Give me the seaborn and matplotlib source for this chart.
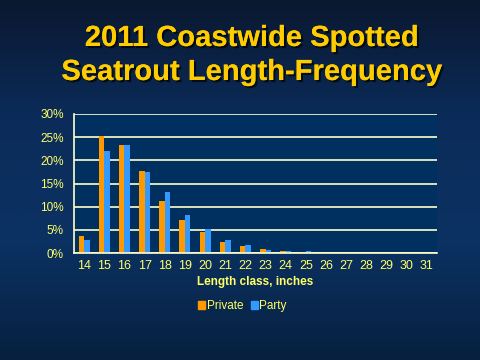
import matplotlib
matplotlib.use("Agg")
from matplotlib import pyplot as plt
import matplotlib.patheffects as pe
from matplotlib.colors import LinearSegmentedColormap
from matplotlib.patches import Patch
import numpy as np
import pandas as pd
import seaborn as sns

lengths = [str(i) for i in range(14, 32)]
private = [3.6, 25.3, 23.4, 17.8, 11.3, 7.2, 4.6, 2.4, 1.6, 0.9, 0.5, 0.3, 0, 0, 0, 0, 0, 0]
party = [2.9, 22.1, 23.4, 17.5, 13.2, 8.3, 5.2, 2.7, 1.8, 0.7, 0.5, 0.5, 0, 0, 0, 0, 0, 0]

df = pd.DataFrame({
    'Length': lengths * 2,
    'Percent': private + party,
    'Group': ['Private'] * len(lengths) + ['Party'] * len(lengths),
})

sns.set_style('white')
plt.rcParams['font.family'] = ['Liberation Sans', 'DejaVu Sans']

yellow = '#FFFF66'
cream = '#FFFFCC'
colors = {'Private': '#FF9900', 'Party': '#3399FF'}

fig = plt.figure(figsize=(4.8, 3.6), dpi=100)

# background gradient
bg = fig.add_axes([0, 0, 1, 1], zorder=-10)
cmap = LinearSegmentedColormap.from_list('bg', ['#0a1830', '#0b2c5a', '#0b3263', '#07203f'])
grad = np.linspace(0, 1, 256).reshape(-1, 1)
bg.imshow(grad, aspect='auto', cmap=cmap, extent=[0, 1, 0, 1])
bg.axis('off')

ax = fig.add_axes([74 / 480, 1 - 253 / 360, 363 / 480, 139 / 360])
ax.set_facecolor('#00305f')
sns.barplot(data=df, x='Length', y='Percent', hue='Group', palette=colors,
            width=0.55, ax=ax, legend=False, saturation=1, linewidth=0, edgecolor='none')

ax.set_ylim(0, 30)
ax.set_xlim(-0.5, 17.5)
ax.set_yticks(range(0, 31, 5))
ax.set_yticklabels([f'{v}%' for v in range(0, 31, 5)])
ax.yaxis.grid(True, color=cream, linewidth=1.2)
ax.set_axisbelow(True)
for s in ['top', 'right']:
    ax.spines[s].set_visible(False)
for s in ['left', 'bottom']:
    ax.spines[s].set_color(cream)
    ax.spines[s].set_linewidth(1.2)
ax.set_xticks(np.arange(-0.5, 18, 1), minor=True)
ax.tick_params(axis='x', which='major', length=0, colors=yellow, labelsize=9, pad=5)
ax.tick_params(axis='x', which='minor', length=4, color=cream, width=1.2, direction='out')
ax.tick_params(axis='y', length=4, color=cream, width=1.2, labelcolor=yellow, labelsize=8.5)
ax.set_ylabel('')
ax.set_xlabel('Length class, inches', color=yellow, fontsize=8.5, fontweight='bold', labelpad=3)

handles = [Patch(color=colors[k]) for k in ['Private', 'Party']]
leg = fig.legend(handles, ['Private', 'Party'], loc='center', bbox_to_anchor=(0.505, 1 - 306 / 360),
                 ncol=2, frameon=False, fontsize=8.5, handlelength=0.6, handleheight=0.6,
                 handletextpad=0.15, columnspacing=0.6)
for t in leg.get_texts():
    t.set_color(yellow)

shadow = [pe.withSimplePatchShadow(offset=(1.5, -1.5), shadow_rgbFace='black', alpha=0.7), pe.Normal()]
fig.text(0.524, 1 - 38 / 360, '2011 Coastwide Spotted', ha='center', va='center',
         color='#FFCC00', fontsize=21, fontweight='bold', path_effects=shadow)
fig.text(0.524, 1 - 72 / 360, 'Seatrout Length-Frequency', ha='center', va='center',
         color='#FFCC00', fontsize=21, fontweight='bold', path_effects=shadow)

fig.savefig('out.png', dpi=100)
